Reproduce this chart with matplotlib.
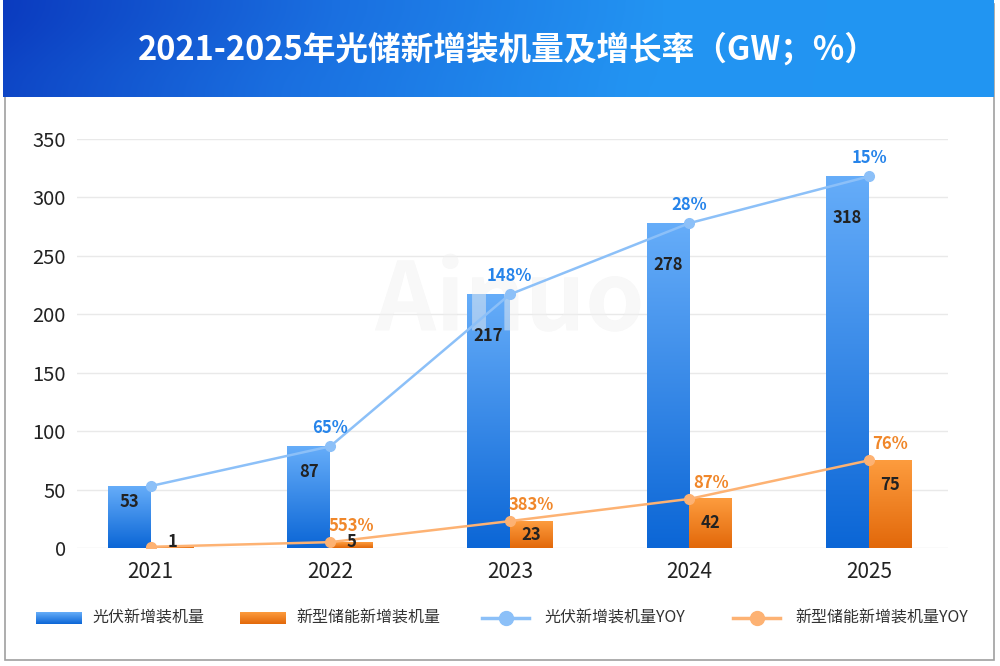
import numpy as np
import matplotlib.pyplot as plt
import matplotlib.patheffects as pe
from matplotlib.colors import LinearSegmentedColormap
from matplotlib.patches import Rectangle
from matplotlib.lines import Line2D

plt.rcParams['font.family'] = ['Noto Sans CJK SC', 'DejaVu Sans']

title = '2021-2025年光储新增装机量及增长率（GW；%）'
years = ['2021', '2022', '2023', '2024', '2025']
pv_gw = [53, 87, 217, 278, 318]
storage_gw = [1, 5, 23, 42, 75]
pv_yoy = [None, 65, 148, 28, 15]
storage_yoy = [None, 553, 383, 87, 76]
series_names = ['光伏新增装机量', '新型储能新增装机量', '光伏新增装机量YOY', '新型储能新增装机量YOY']
y_ticks = [0, 50, 100, 150, 200, 250, 300, 350]

BLUE_TOP, BLUE_BOT = '#66adf9', '#0b66d6'
ORANGE_TOP, ORANGE_BOT = '#fd9c3e', '#e2680a'
BLUE_LINE = '#8cc0f8'
ORANGE_LINE = '#fdb273'
BLUE_TXT = '#2684ea'
ORANGE_TXT = '#f0872a'
TXT = '#222222'


def vgrad(top, bot):
    return LinearSegmentedColormap.from_list('g', [bot, top])


GRAD = np.linspace(0, 1, 256).reshape(-1, 1)


def fill_gradient(ax, bars, cmap):
    # paint each bar with its own top-to-bottom gradient
    for b in bars:
        x0, y0 = b.get_x(), b.get_y()
        ax.imshow(GRAD, cmap=cmap, origin='lower', aspect='auto', interpolation='bilinear',
                  extent=(x0, x0 + b.get_width(), y0, y0 + b.get_height()), zorder=2)
        b.set_alpha(0)


fig = plt.figure(figsize=(10, 6.66), dpi=100)

# background layer in pixel coords: banner, frame, legend
bg = fig.add_axes([0, 0, 1, 1], zorder=0)
bg.set_xlim(0, 1000)
bg.set_ylim(666, 0)
bg.axis('off')
bg.add_patch(Rectangle((4.5, 4), 989, 656, fill=False, ec='#a0a0a0', lw=1.2))
banner = np.linspace(0, 1, 512).reshape(1, -1)
banner = np.vstack([banner, banner * 0.92 + 0.08])
bcmap = LinearSegmentedColormap.from_list('b', ['#0b3bbf', '#1a6fe0', '#2394f2', '#2196f3'])
bg.imshow(banner, cmap=bcmap, aspect='auto', interpolation='bicubic',
          extent=(3, 994, 97, 0), zorder=1)
bg.text(508, 50, title, color='white', fontsize=23.5, fontweight='bold',
        ha='center', va='center', zorder=2)

# main chart
ax = fig.add_axes([0.077, 1 - 548 / 666, 0.871, 409 / 666], zorder=1)
ax.patch.set_alpha(0)
x = np.arange(len(years))
w = 0.238

pv_bars = ax.bar(x - w / 2, pv_gw, w, color=BLUE_TOP)
st_bars = ax.bar(x + w / 2, storage_gw, w, color=ORANGE_TOP)
fill_gradient(ax, pv_bars, vgrad(BLUE_TOP, BLUE_BOT))
fill_gradient(ax, st_bars, vgrad(ORANGE_TOP, ORANGE_BOT))

ax.plot(x, pv_gw, color=BLUE_LINE, lw=1.8, marker='o', ms=7, zorder=4)
ax.plot(x, storage_gw, color=ORANGE_LINE, lw=1.8, marker='o', ms=7, zorder=4)

ax.set_xlim(-0.41, 4.44)
ax.set_ylim(0, 350)
ax.set_yticks(y_ticks)
ax.set_xticks(x)
ax.set_xticklabels(years)
ax.tick_params(axis='both', length=0, labelcolor=TXT)
ax.tick_params(axis='x', pad=9, labelsize=15)
ax.tick_params(axis='y', pad=8, labelsize=14.5)
ax.grid(axis='y', color='#e9e9e9', lw=1)
ax.set_axisbelow(True)
for s in ax.spines.values():
    s.set_visible(False)

px = ax.bbox.height / 350  # pixels per GW

for b, v in zip(pv_bars, pv_gw):
    drop = min(42, 0.25 * v * px) / px
    ax.text(b.get_x() + w / 2, v - drop, str(v), ha='center', va='center',
            fontsize=12, fontweight='bold', color=TXT, zorder=5)
for b, v in zip(st_bars, storage_gw):
    drop = min(25, 0.5 * v * px) / px
    ax.text(b.get_x() + w / 2, max(v - drop, 5), str(v), ha='center', va='center',
            fontsize=12, fontweight='bold', color=TXT, zorder=5)

for i, (v, r) in enumerate(zip(pv_gw, pv_yoy)):
    if r is not None:
        ax.text(i, v + 18 / px, f'{r}%', ha='center', va='center',
                fontsize=12, fontweight='bold', color=BLUE_TXT, zorder=5)
for b, v, r in zip(st_bars, storage_gw, storage_yoy):
    if r is not None:
        ax.text(b.get_x() + w / 2, v + 16 / px, f'{r}%', ha='center', va='center',
                fontsize=12, fontweight='bold', color=ORANGE_TXT, zorder=5)

# watermark
ax.text(2, 210, 'Ainuo', ha='center', va='center', fontsize=68, fontweight='bold',
        color='white', alpha=0.3, zorder=3.5,
        path_effects=[pe.SimplePatchShadow(offset=(0, 0), shadow_rgbFace='#d8d8d8', alpha=0.25),
                      pe.Normal()])

# legend
lg_y = 618
for (x0, c_top, c_bot), name in zip([(36, BLUE_TOP, BLUE_BOT), (240, ORANGE_TOP, ORANGE_BOT)],
                                    series_names[:2]):
    bg.imshow(GRAD, cmap=vgrad(c_top, c_bot), origin='lower', aspect='auto',
              extent=(x0, x0 + 46, lg_y + 6, lg_y - 6), zorder=2)
    bg.text(x0 + 56, lg_y, name, fontsize=11.5, color='#333333', va='center', ha='left')
for (x0, c), name in zip([(482, BLUE_LINE), (733, ORANGE_LINE)], series_names[2:]):
    bg.add_line(Line2D([x0, x0 + 47], [lg_y, lg_y], color=c, lw=2.5, zorder=2))
    bg.plot([x0 + 24], [lg_y], marker='o', ms=10, color=c, zorder=3)
    bg.text(x0 + 62, lg_y, name, fontsize=11.5, color='#333333', va='center', ha='left')
bg.set_xlim(0, 1000)
bg.set_ylim(666, 0)

fig.savefig('out.png', dpi=100)
